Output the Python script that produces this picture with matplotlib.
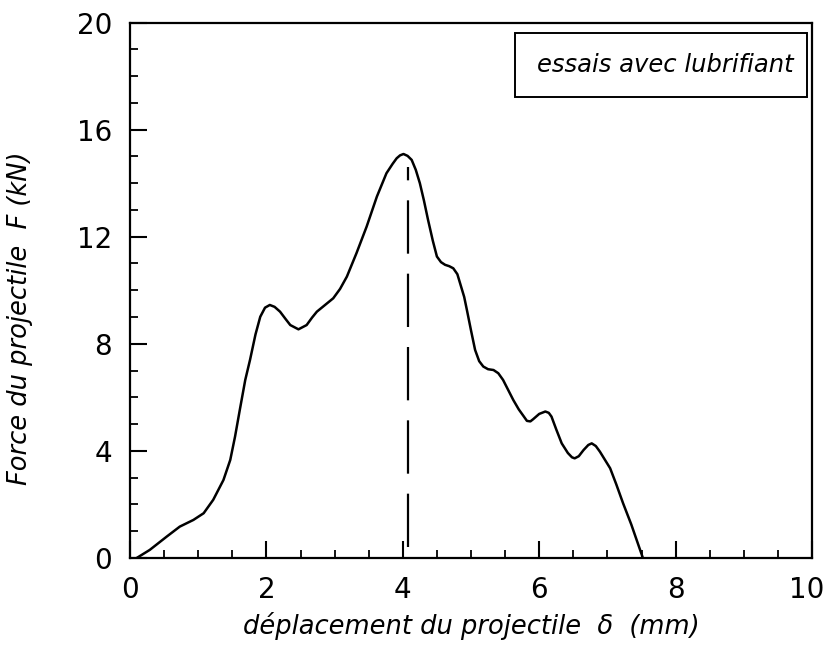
import matplotlib
matplotlib.use("Agg")
import matplotlib.pyplot as plt
from matplotlib.ticker import MultipleLocator
from matplotlib.patches import Rectangle
from matplotlib.transforms import ScaledTranslation

# displacement (mm) and force (kN)
disp = [0.10, 0.29, 0.54, 0.73, 0.93, 1.08, 1.22, 1.37, 1.47, 1.54, 1.61, 1.69,
        1.76, 1.84, 1.91, 1.98, 2.05, 2.12, 2.20, 2.28, 2.35, 2.47, 2.59, 2.67,
        2.74, 2.86, 2.98, 3.08, 3.18, 3.32, 3.47, 3.62, 3.76, 3.85, 3.91, 3.96,
        4.01, 4.07, 4.13, 4.19, 4.25, 4.31, 4.37, 4.44, 4.50, 4.56, 4.62, 4.68,
        4.74, 4.80, 4.84, 4.90, 4.94, 5.00, 5.06, 5.12, 5.18, 5.25, 5.33, 5.40,
        5.47, 5.55, 5.62, 5.70, 5.77, 5.82, 5.87, 5.91, 6.00, 6.09, 6.14, 6.18,
        6.25, 6.33, 6.42, 6.48, 6.52, 6.58, 6.65, 6.72, 6.77, 6.83, 6.89, 6.96,
        7.04, 7.13, 7.23, 7.35, 7.52]
force = [0.00, 0.30, 0.80, 1.17, 1.42, 1.67, 2.17, 2.91, 3.66, 4.53, 5.53, 6.65,
         7.40, 8.35, 9.01, 9.35, 9.45, 9.38, 9.20, 8.93, 8.70, 8.54, 8.70, 8.98,
         9.20, 9.45, 9.70, 10.05, 10.51, 11.38, 12.38, 13.50, 14.37, 14.72, 14.93, 15.04,
         15.09, 15.02, 14.87, 14.50, 14.00, 13.35, 12.63, 11.85, 11.26, 11.05, 10.95, 10.90,
         10.82, 10.60, 10.26, 9.75, 9.26, 8.50, 7.77, 7.35, 7.15, 7.05, 7.02, 6.90,
         6.65, 6.25, 5.90, 5.55, 5.30, 5.12, 5.10, 5.18, 5.38, 5.47, 5.42, 5.28,
         4.80, 4.28, 3.92, 3.76, 3.72, 3.80, 4.03, 4.22, 4.28, 4.18, 3.97, 3.68,
         3.35, 2.75, 2.04, 1.25, 0.00]

# peak marker (dashed vertical)
peak_x = [4.07, 4.07]
peak_y = [0.4, 14.6]

x_ticks = [0, 2, 4, 6, 8, 10]
y_ticks = [0, 4, 8, 12, 16, 20]

legend_text = "essais avec lubrifiant"
xlabel = "déplacement du projectile  δ  (mm)"
ylabel = "Force du projectile  F (kN)"

plt.rcParams['font.family'] = ['DejaVu Sans']

fig = plt.figure(figsize=(8.28, 6.45), dpi=100)
ax = fig.add_axes([0.157, 0.135, 0.8237, 0.830])

ax.plot(disp, force, color='black', linewidth=1.8, solid_joinstyle='round',
        solid_capstyle='round')
ax.plot(peak_x, peak_y, color='black', linewidth=1.6, dashes=(24, 9))

ax.set_xlim(0, 10)
ax.set_ylim(0, 20)
ax.set_xticks(x_ticks)
ax.set_yticks(y_ticks)
ax.xaxis.set_minor_locator(MultipleLocator(0.5))
ax.yaxis.set_minor_locator(MultipleLocator(1))
ax.tick_params(which='major', direction='in', length=12.5, width=1.5,
               labelsize=20, pad=13)
ax.tick_params(which='minor', direction='in', length=6, width=1.3)
ax.tick_params(axis='x', which='both', top=False)
ax.tick_params(axis='y', which='both', right=False)

# nudge the last x tick label so it stays inside the figure
for lab in ax.get_xticklabels():
    if lab.get_text() == '10':
        lab.set_transform(lab.get_transform() +
                          ScaledTranslation(-4 / 72, 0, fig.dpi_scale_trans))

for s in ax.spines.values():
    s.set_linewidth(1.6)

ax.set_xlabel(xlabel, fontsize=18.5, style='italic', labelpad=6)
ax.set_ylabel(ylabel, fontsize=18.5, style='italic')
ax.yaxis.set_label_coords(-0.142, 0.448)

ax.add_patch(Rectangle((0.5645, 0.861), 0.4282, 0.1196, transform=ax.transAxes,
                       facecolor='white', edgecolor='black', linewidth=1.4,
                       zorder=3))
ax.text(0.7845, 0.921, legend_text, transform=ax.transAxes, ha='center',
        va='center', fontsize=17.5, style='italic', zorder=4)

fig.savefig("out.png", dpi=100)
